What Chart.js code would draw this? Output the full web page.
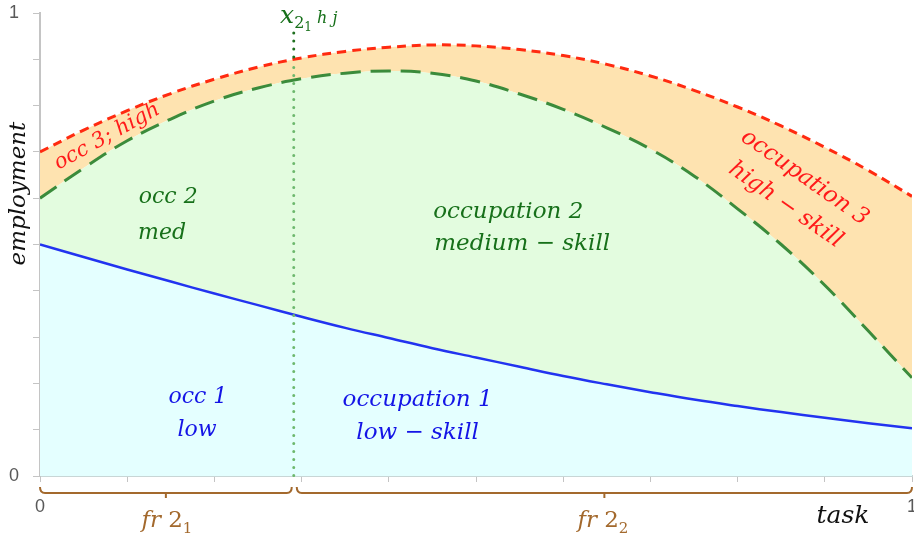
<!DOCTYPE html>
<html>
<head>
<meta charset="utf-8">
<script src="https://cdn.jsdelivr.net/npm/chart.js@4"></script>
<style>
  html, body { margin: 0; padding: 0; background: #fff; }
  #wrap { width: 914px; height: 540px; }
</style>
</head>
<body>
<div id="wrap"><canvas id="chart"></canvas></div>
<script>
// task position on the x axis
const xs = [0, 0.05, 0.1, 0.15, 0.2, 0.25, 0.3, 0.35, 0.4, 0.45, 0.5,
            0.55, 0.6, 0.65, 0.7, 0.75, 0.8, 0.85, 0.9, 0.95, 1];
// occupation 1 (low-skill) boundary
const lowSkill = [0.500, 0.473, 0.446, 0.420, 0.394, 0.369, 0.344, 0.320, 0.298, 0.276, 0.256,
                  0.236, 0.216, 0.198, 0.181, 0.165, 0.151, 0.138, 0.126, 0.114, 0.103];
// occupation 1 + 2 (medium-skill) boundary
const lowMedium = [0.600, 0.665, 0.724, 0.771, 0.810, 0.838, 0.858, 0.870, 0.875, 0.870, 0.853,
                   0.825, 0.792, 0.752, 0.706, 0.648, 0.577, 0.500, 0.412, 0.313, 0.212];
// all occupations (high-skill on top)
const allOcc = [0.700, 0.747, 0.789, 0.826, 0.857, 0.883, 0.903, 0.917, 0.926, 0.931, 0.929,
                0.921, 0.908, 0.889, 0.864, 0.833, 0.797, 0.756, 0.710, 0.660, 0.604];
const cutoff = 0.291;          // x_{2_1 h j}
const edgeTicks = [0, 1];      // only these ticks get a label

const pts = arr => xs.map((x, i) => ({ x: x, y: arr[i] }));
const serif = '"DejaVu Serif", serif';

function runs(ctx, parts, cx, cy) {
  let w = 0;
  parts.forEach(p => { ctx.font = p.font; p.w = ctx.measureText(p.t).width; w += p.w; });
  let x0 = cx - w / 2;
  ctx.textAlign = 'left';
  ctx.textBaseline = 'alphabetic';
  parts.forEach(p => { ctx.font = p.font; ctx.fillText(p.t, x0, cy + (p.dy || 0)); x0 += p.w; });
}

function brace(ctx, x1, x2, yy) {
  const mid = (x1 + x2) / 2;
  ctx.beginPath();
  ctx.moveTo(x1, yy - 6);
  ctx.quadraticCurveTo(x1, yy, x1 + 5, yy);
  ctx.lineTo(x2 - 5, yy);
  ctx.quadraticCurveTo(x2, yy, x2, yy - 6);
  ctx.moveTo(mid, yy);
  ctx.lineTo(mid, yy + 5);
  ctx.stroke();
}

const annotate = {
  id: 'annotate',
  afterDatasetsDraw(chart) {
    const { ctx, chartArea: a, scales: { x, y } } = chart;
    // vertical dotted marker
    const px = x.getPixelForValue(cutoff);
    const i = xs.findIndex(v => v > cutoff);
    const t = (cutoff - xs[i - 1]) / (xs[i] - xs[i - 1]);
    const topY = y.getPixelForValue(allOcc[i - 1] + t * (allOcc[i] - allOcc[i - 1]));
    ctx.save();
    ctx.lineCap = 'round';
    ctx.lineWidth = 3;
    ctx.setLineDash([0, 8]);
    ctx.strokeStyle = '#1F6F1F';
    ctx.beginPath(); ctx.moveTo(px, y.getPixelForValue(0.957)); ctx.lineTo(px, topY); ctx.stroke();
    ctx.strokeStyle = '#6DB86D';
    ctx.beginPath(); ctx.moveTo(px, topY + 8); ctx.lineTo(px, a.bottom); ctx.stroke();
    ctx.restore();
  },
  afterDraw(chart) {
    const { ctx, chartArea: a, scales: { x, y } } = chart;
    const lbl = (txt, xv, yv, color, size, rot) => {
      ctx.save();
      ctx.translate(x.getPixelForValue(xv), y.getPixelForValue(yv));
      ctx.rotate((rot || 0) * Math.PI / 180);
      ctx.font = 'italic ' + size + 'px ' + serif;
      ctx.fillStyle = color;
      ctx.textAlign = 'center';
      ctx.textBaseline = 'middle';
      ctx.fillText(txt, 0, 0);
      ctx.restore();
    };
    const red = '#FF1A1A', green = '#17701A', blue = '#1414E6', brown = '#A3692D';

    lbl('occ 3; high', 0.077, 0.733, red, 21, -29);
    lbl('occ 2', 0.147, 0.601, green, 22);
    lbl('med', 0.140, 0.525, green, 22);
    lbl('occupation 2', 0.537, 0.571, green, 23);
    lbl('medium − skill', 0.553, 0.502, green, 23);
    lbl('occ 1', 0.181, 0.171, blue, 22);
    lbl('low', 0.180, 0.099, blue, 22);
    lbl('occupation 1', 0.433, 0.164, blue, 23);
    lbl('low − skill', 0.433, 0.093, blue, 23);
    lbl('occupation 3', 0.877, 0.644, red, 23, 35);
    lbl('high − skill', 0.855, 0.585, red, 23, 35);

    // axis title
    ctx.save();
    ctx.translate(19, y.getPixelForValue(0.61));
    ctx.rotate(-Math.PI / 2);
    ctx.font = 'italic 23px ' + serif;
    ctx.fillStyle = '#111';
    ctx.textAlign = 'center';
    ctx.textBaseline = 'middle';
    ctx.fillText('employment', 0, 0);
    ctx.restore();

    ctx.save();
    ctx.font = 'italic 25px ' + serif;
    ctx.fillStyle = '#111';
    ctx.textAlign = 'center';
    ctx.textBaseline = 'middle';
    ctx.fillText('task', 843, a.bottom + 40);
    ctx.restore();

    // marker label x_{2_1 h j}
    ctx.save();
    ctx.fillStyle = '#17701A';
    runs(ctx, [
      { t: 'x', font: 'italic 25px ' + serif },
      { t: '2', font: '16px ' + serif, dy: 5 },
      { t: '1', font: '12px ' + serif, dy: 8 },
      { t: ' h j', font: 'italic 16px ' + serif, dy: 0 }
    ], x.getPixelForValue(cutoff) + 15, 23);
    ctx.restore();

    // braces under the axis
    ctx.save();
    ctx.strokeStyle = brown;
    ctx.lineWidth = 2;
    brace(ctx, x.getPixelForValue(0), x.getPixelForValue(cutoff) - 2, a.bottom + 17);
    brace(ctx, x.getPixelForValue(cutoff) + 3, x.getPixelForValue(1), a.bottom + 17);
    ctx.fillStyle = brown;
    [[cutoff / 2, '1'], [(cutoff + 1) / 2, '2']].forEach(([v, s]) => {
      runs(ctx, [
        { t: 'fr ', font: 'italic 23px ' + serif },
        { t: '2', font: '23px ' + serif },
        { t: s, font: '15px ' + serif, dy: 6 }
      ], x.getPixelForValue(v), a.bottom + 51);
    });
    ctx.restore();
  }
};

new Chart(document.getElementById('chart'), {
  type: 'line',
  data: {
    datasets: [
      {
        label: 'occupation 1',
        data: pts(lowSkill),
        borderColor: '#2233F0',
        borderWidth: 2.5,
        backgroundColor: '#E4FFFF',
        fill: 'origin',
        pointRadius: 0,
        tension: 0.4
      },
      {
        label: 'occupation 2',
        data: pts(lowMedium),
        borderColor: '#3B8B3B',
        borderWidth: 3,
        borderDash: [20, 10],
        backgroundColor: '#E3FCDF',
        fill: '-1',
        pointRadius: 0,
        tension: 0.4
      },
      {
        label: 'occupation 3',
        data: pts(allOcc),
        borderColor: '#FF2A10',
        borderWidth: 3,
        borderDash: [9, 6],
        backgroundColor: '#FEE3B0',
        fill: '-1',
        pointRadius: 0,
        tension: 0.4
      }
    ]
  },
  options: {
    responsive: true,
    maintainAspectRatio: false,
    animation: false,
    layout: { padding: { top: 13, right: 2, left: 0, bottom: 0 } },
    plugins: { legend: { display: false }, tooltip: { enabled: false } },
    scales: {
      x: {
        type: 'linear',
        min: 0,
        max: 1,
        afterFit: s => { s.height = 64; s.paddingLeft = 0; s.paddingRight = 0; },
        grid: { drawOnChartArea: false, tickLength: 6, color: '#C4C4C4' },
        border: { color: '#C8D6D6', width: 2 },
        ticks: {
          stepSize: 0.1,
          autoSkip: false,
          maxRotation: 0,
          padding: 14,
          color: '#595959',
          font: { family: 'Liberation Sans', size: 18 },
          callback: v => edgeTicks.some(e => Math.abs(e - v) < 1e-6) ? String(Math.round(v)) : ''
        }
      },
      y: {
        min: 0,
        max: 1,
        afterFit: s => { s.width = 40; s.paddingTop = 0; s.paddingBottom = 0; },
        grid: { drawOnChartArea: false, tickLength: 7, color: '#C4C4C4' },
        border: { color: '#C4C4C4', width: 2 },
        ticks: {
          stepSize: 0.1,
          autoSkip: false,
          padding: 14,
          color: '#595959',
          font: { family: 'Liberation Sans', size: 18 },
          callback: v => edgeTicks.some(e => Math.abs(e - v) < 1e-6) ? String(Math.round(v)) : ''
        }
      }
    }
  },
  plugins: [annotate]
});
</script>
</body>
</html>
